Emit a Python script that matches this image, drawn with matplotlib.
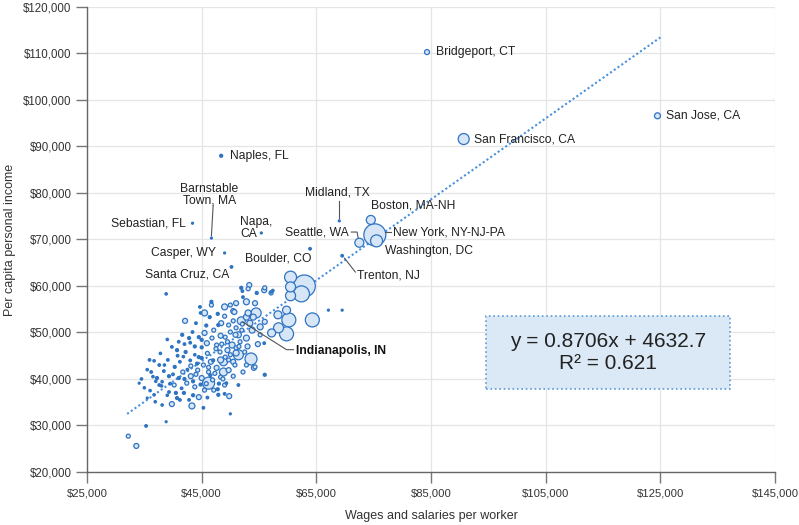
import matplotlib
matplotlib.use("Agg")
import numpy as np
import matplotlib.pyplot as plt
from matplotlib.ticker import FuncFormatter, FixedLocator, MultipleLocator
from matplotlib.patches import Rectangle

plt.rcParams['font.family'] = ['Liberation Sans', 'DejaVu Sans']

# Labeled metros: wages per worker ($k), per capita income ($k), bubble radius (px-ish)
metro_names = ["Bridgeport, CT", "San Jose, CA", "San Francisco, CA", "Naples, FL",
               "Sebastian, FL", "Barnstable Town, MA", "Napa, CA", "Casper, WY",
               "Santa Cruz, CA", "Boulder, CO", "Midland, TX", "Seattle, WA",
               "Boston, MA-NH", "New York, NY-NJ-PA", "Washington, DC", "Trenton, NJ",
               "Indianapolis, IN"]
metro_wages = [84.3, 124.5, 90.7, 48.4, 43.4, 46.7, 55.4, 49.0, 50.2, 63.9, 69.0,
               72.5, 74.5, 75.2, 75.5, 69.5, 51.9]
metro_income = [110.3, 96.6, 91.6, 88.0, 73.5, 70.3, 71.4, 67.1, 64.1, 68.0, 74.0,
                69.3, 74.2, 71.0, 69.7, 66.5, 52.5]
metro_size = [2.5, 3, 5.5, 1.5, 1, 1, 1, 1, 1.3, 1.3, 1, 4.5, 4.5, 11, 6, 1.3, 4]

# Other metros, grouped by area of the chart: (wages $k, income $k, radius)
big_cluster = [(60.5, 61.9, 6), (60.5, 59.8, 5), (62.4, 58.3, 8), (62.9, 60.0, 11),
               (60.5, 57.9, 5), (57.1, 58.7, 1.2), (67.1, 54.8, 1), (69.5, 54.8, 1),
               (58.3, 53.8, 4), (59.8, 54.8, 4), (60.2, 52.7, 7), (64.3, 52.7, 7),
               (58.4, 51.0, 5), (59.8, 49.7, 7), (57.2, 49.9, 4), (53.6, 44.3, 6),
               (51.4, 45.2, 5), (48.8, 41.5, 4), (46.2, 39.1, 6), (43.3, 34.2, 3)]
mid_cloud = [(53.3, 60.2, 2.5), (53.1, 59.4, 2), (51.0, 56.3, 2.5), (55.9, 59.1, 2.5),
             (57.1, 58.5, 2), (52.8, 56.6, 3), (54.3, 56.3, 2.5), (50.0, 55.9, 2),
             (50.7, 54.4, 2.5), (53.1, 54.2, 3), (54.5, 54.2, 5), (52.8, 53.3, 3),
             (54.0, 53.3, 3), (56.0, 52.3, 2.5), (53.4, 52.0, 3), (51.0, 51.0, 2),
             (53.8, 50.5, 3), (49.7, 51.6, 2), (50.0, 50.1, 2), (51.4, 49.5, 3),
             (49.1, 49.0, 2), (52.8, 48.8, 3), (51.7, 48.0, 2), (50.3, 47.3, 3),
             (55.9, 47.7, 1.3), (49.5, 46.2, 2.5), (51.0, 45.6, 3), (49.1, 44.7, 2),
             (49.7, 44.1, 2), (54.3, 42.6, 2), (51.9, 59.6, 1.5), (52.1, 58.9, 1.3),
             (56.0, 59.6, 2), (57.4, 59.0, 1.3), (52.2, 57.6, 1.3), (54.6, 58.5, 1.5),
             (50.5, 54.6, 2.5), (48.4, 52.0, 2.5), (50.9, 49.5, 2.5), (48.8, 43.7, 4),
             (49.3, 39.1, 1.3)]
left_cloud = [(38.8, 58.3, 1.2), (44.7, 55.5, 1.3), (46.7, 55.9, 2), (46.7, 56.6, 1.5),
              (45.5, 54.2, 3), (44.8, 54.2, 1.2), (49.0, 55.5, 3), (42.1, 52.5, 2.5),
              (41.6, 49.5, 1.5), (43.4, 50.1, 1.3), (42.8, 48.8, 1.5), (39.8, 46.9, 1.3),
              (35.9, 44.1, 1.3), (36.7, 43.9, 1.2), (39.1, 44.1, 1.3), (40.7, 46.2, 1.5),
              (42.2, 45.8, 1.5), (45.5, 49.9, 2.5), (45.9, 47.7, 2.5), (45.0, 48.4, 1.5),
              (46.4, 53.3, 1.5), (47.1, 50.5, 2), (47.9, 51.6, 1.5), (48.3, 49.3, 2.5),
              (47.6, 47.3, 2), (44.5, 44.7, 1.5), (43.8, 45.2, 1.2), (43.1, 42.8, 2),
              (41.2, 43.7, 1.3), (40.3, 42.6, 1.5), (38.4, 41.7, 1.3), (37.6, 43.0, 1.3)]
core_cloud = [(36.2, 41.5, 1.3), (37.2, 40.2, 1.5), (38.1, 39.4, 1.2), (39.3, 40.6, 1.5),
              (40.2, 38.7, 2), (41.0, 40.2, 1.5), (41.7, 41.5, 2), (42.4, 39.1, 2),
              (43.1, 40.6, 2.5), (43.8, 38.3, 2), (44.3, 41.9, 2), (45.0, 40.2, 2.5),
              (45.5, 37.6, 2), (46.2, 41.5, 2), (46.9, 39.8, 2), (47.6, 42.4, 2.5),
              (48.3, 40.4, 2), (49.0, 38.7, 2), (49.7, 41.9, 2.5), (50.5, 40.6, 2),
              (47.1, 37.6, 2), (47.9, 36.6, 1.5), (41.9, 37.0, 1.5), (40.7, 35.9, 1.5),
              (42.8, 35.5, 1.3), (39.3, 37.2, 1.3), (37.6, 38.7, 1.3), (35.0, 38.1, 1.2),
              (36.7, 36.6, 1.2), (38.1, 34.4, 1.2), (39.8, 34.6, 2.5), (44.5, 36.1, 2.5),
              (45.3, 33.8, 1.3), (51.4, 38.7, 1.3), (49.8, 36.3, 2.5), (50.0, 32.5, 1),
              (56.0, 40.9, 1.5), (54.1, 42.4, 2.5), (52.2, 41.5, 2), (52.8, 43.0, 2),
              (50.5, 43.7, 2.5), (48.3, 44.1, 3), (46.6, 43.7, 2.5), (45.3, 43.0, 2),
              (51.0, 46.7, 2), (52.1, 51.8, 2), (54.8, 47.5, 2.5), (55.2, 49.5, 2),
              (55.2, 51.2, 3), (35.5, 35.9, 1), (34.1, 39.1, 1), (36.9, 35.1, 1.2),
              (38.8, 30.8, 1), (35.3, 29.9, 1.3), (32.2, 27.7, 2), (33.6, 25.6, 2.5)]
dense_fill = [(38.0, 38.5, 1.2), (39.0, 36.5, 1.2), (40.5, 37.0, 1.5), (41.5, 38.0, 1.3),
              (42.0, 40.0, 1.5), (42.5, 42.0, 1.3), (43.5, 39.5, 1.5), (44.0, 41.0, 2),
              (44.8, 38.8, 1.5), (45.8, 39.0, 2), (46.5, 40.8, 1.5), (47.3, 41.2, 2),
              (48.0, 39.0, 1.5), (48.7, 40.0, 2), (44.2, 43.3, 1.5), (45.0, 44.5, 1.5),
              (46.0, 45.5, 2), (47.0, 44.0, 1.5), (43.0, 44.0, 1.3), (41.8, 44.8, 1.2),
              (40.0, 41.0, 1.3), (39.5, 39.0, 1.3), (37.0, 39.5, 1.2), (36.5, 40.5, 1.2),
              (38.5, 43.0, 1.2), (40.8, 45.0, 1.3), (42.0, 47.5, 1.3), (43.8, 47.0, 1.5),
              (44.5, 49.0, 1.5), (46.8, 48.8, 2), (47.5, 46.5, 2), (48.5, 47.5, 2),
              (49.5, 48.0, 2), (50.0, 45.2, 2), (50.8, 43.0, 2), (51.5, 47.0, 2),
              (52.5, 45.8, 2), (53.0, 47.0, 2.5), (52.0, 50.5, 2), (50.5, 52.5, 2),
              (49.0, 53.5, 2), (47.8, 54.0, 1.5), (45.8, 51.5, 1.5), (44.0, 52.0, 1.3),
              (43.0, 47.8, 1.3), (41.0, 48.0, 1.3), (39.0, 48.5, 1.2), (37.8, 45.5, 1.2),
              (35.5, 42.0, 1.2), (34.5, 40.0, 1.2), (36.0, 37.5, 1.2), (41.2, 35.5, 1.3),
              (43.5, 36.5, 1.5), (46.0, 36.0, 1.3), (47.8, 37.8, 1.5), (49.0, 36.8, 1.3),
              (45.0, 46.8, 1.5), (46.2, 42.5, 2), (48.2, 45.8, 2)]

x_ticks = [25000, 45000, 65000, 85000, 105000, 125000, 145000]

slope, intercept = 0.8706, 4632.7
r_squared = 0.621

# combine everything
others = np.array(big_cluster + mid_cloud + left_cloud + core_cloud + dense_fill)
wages = np.concatenate([others[:, 0], metro_wages]) * 1000
income = np.concatenate([others[:, 1], metro_income]) * 1000
radius = np.concatenate([others[:, 2], metro_size])

order = np.argsort(-radius)
wages, income, radius = wages[order], income[order], radius[order]

blue = '#2f74c2'
light = '#d6e6f6'
faces = [blue if r <= 1.6 else light for r in radius]
sizes = (1.44 * radius) ** 2

fig = plt.figure(figsize=(7.99, 5.25), dpi=100)
ax = fig.add_axes([0.1089, 0.1010, 0.8611, 0.8857])

ax.scatter(wages, income, s=sizes, facecolors=faces, edgecolors=blue,
           linewidths=0.9, zorder=3)

# trend line
xs = np.array([32000, 125000])
ax.plot(xs, slope * xs + intercept, linestyle=(0, (1, 1.2)), color='#4a90dc',
        lw=1.5, zorder=2)

ax.set_xlim(25000, 145000)
ax.set_ylim(20000, 120000)
ax.xaxis.set_major_locator(FixedLocator(x_ticks))
ax.yaxis.set_major_locator(MultipleLocator(10000))
fmt = FuncFormatter(lambda v, p: '${:,.0f}'.format(v))
ax.xaxis.set_major_formatter(fmt)
ax.yaxis.set_major_formatter(fmt)
ax.grid(True, color='#e5e5e5', lw=0.9, zorder=0)
ax.set_axisbelow(True)
for s in ['top', 'right']:
    ax.spines[s].set_visible(False)
for s in ['left', 'bottom']:
    ax.spines[s].set_color('#666666')
    ax.spines[s].set_linewidth(1)
ax.tick_params(length=8, width=1, color='#777777', labelsize=8.3,
               labelcolor='#333333', pad=3)
ax.tick_params(axis='x', pad=4, labelsize=8.1)

ax.set_xlabel('Wages and salaries per worker', fontsize=9, color='#333333')
ax.set_ylabel('Per capita personal income', fontsize=9, color='#333333')
ax.xaxis.set_label_coords(0.5, -0.082)
ax.yaxis.set_label_coords(-0.103, 0.5)

# equation box
ax.add_patch(Rectangle((94600, 37850), 42600, 15700, facecolor='#dbe9f6',
                       edgecolor='#5b9bd5', linestyle=':', lw=1.2, zorder=4))
ax.text(115900, 45700, 'y = {}x + {}\nR² = {}'.format(slope, intercept, r_squared),
        ha='center', va='center', fontsize=15, color='#222222', linespacing=1.15,
        zorder=5)

# labels
tc = '#222222'
lc = '#555555'
fs = 8.7
ax.text(85900, 110300, 'Bridgeport, CT', fontsize=fs, color=tc, va='center')
ax.text(125900, 96600, 'San Jose, CA', fontsize=fs, color=tc, va='center')
ax.text(92500, 91600, 'San Francisco, CA', fontsize=fs, color=tc, va='center')
ax.text(49900, 88000, 'Naples, FL', fontsize=fs, color=tc, va='center')
ax.text(42300, 73500, 'Sebastian, FL', fontsize=fs, color=tc, va='center', ha='right')
ax.text(46300, 79600, 'Barnstable\nTown, MA', fontsize=fs, color=tc, va='center',
        ha='center', linespacing=1.0)
ax.plot([47000, 46700], [77300, 70800], color=lc, lw=0.8)
ax.text(51700, 72400, 'Napa,\nCA', fontsize=fs, color=tc, va='center', linespacing=1.0)
ax.text(47500, 67100, 'Casper, WY', fontsize=fs, color=tc, va='center', ha='right')
ax.text(49900, 62400, 'Santa Cruz, CA', fontsize=fs, color=tc, va='center', ha='right')
ax.text(58300, 66000, 'Boulder, CO', fontsize=fs, color=tc, va='center', ha='center')
ax.text(68700, 80000, 'Midland, TX', fontsize=fs, color=tc, va='center', ha='center')
ax.plot([69000, 69000], [78300, 74600], color=lc, lw=0.8)
ax.text(70600, 71600, 'Seattle, WA', fontsize=fs, color=tc, va='center', ha='right')
ax.plot([71100, 72100, 72300], [71600, 71600, 70300], color=lc, lw=0.8)
ax.text(74500, 77400, 'Boston, MA-NH', fontsize=fs, color=tc, va='center')
ax.text(78300, 71600, 'New York, NY-NJ-PA', fontsize=fs, color=tc, va='center')
ax.plot([76900, 78000], [71700, 71700], color=lc, lw=0.8, zorder=4)
ax.text(76900, 67500, 'Washington, DC', fontsize=fs, color=tc, va='center')
ax.text(72100, 62200, 'Trenton, NJ', fontsize=fs, color=tc, va='center')
ax.plot([69900, 71800], [66000, 63000], color=lc, lw=0.8)
ax.text(61500, 46000, 'Indianapolis, IN', fontsize=fs, color='#111111', va='center',
        fontweight='bold')
ax.plot([52100, 59800, 61000], [52300, 46300, 46300], color=lc, lw=0.8, zorder=4)

fig.savefig('out.png', dpi=100)
